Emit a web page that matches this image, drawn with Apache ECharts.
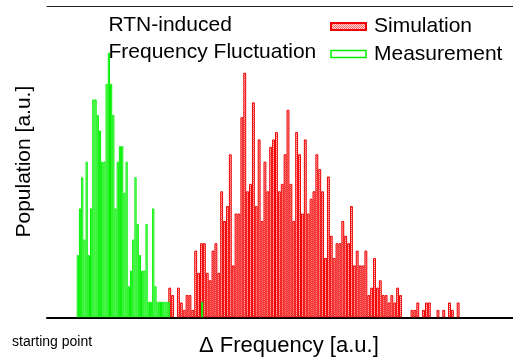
<!DOCTYPE html>
<html>
<head>
<meta charset="utf-8">
<script src="https://cdn.jsdelivr.net/npm/echarts@6/dist/echarts.min.js"></script>
<style>
  html, body { margin: 0; padding: 0; background: #fff; }
  #chart { width: 513px; height: 361px; }
</style>
</head>
<body>
<div id="chart"></div>
<script>
// Histogram counts per frequency bin (arbitrary units)
const simulationCounts = [
  4, 3, 0, 4, 2, 1, 3, 3, 1, 9,
  6, 10, 10, 6, 5, 9, 10, 6, 17, 13,
  15, 22, 7, 14, 14, 27, 33, 17, 18, 29,
  15, 24, 13, 21, 17, 23, 24, 25, 17, 18,
  22, 28, 18, 13, 25, 22, 14, 24, 14, 16,
  17, 22, 20, 17, 8, 19, 11, 8, 10, 10,
  13, 11, 10, 15, 7, 9, 7, 7, 9, 3,
  4, 8, 4, 5, 3, 3, 2, 3, 2, 4,
  3, 0, 0, 0, 1, 1, 2, 0, 1, 2,
  2, 0, 0, 1, 0, 1, 0, 2, 1, 0,
  2
];
const measurementCounts = [
  4, 7, 9, 5, 10, 4, 7, 14, 14, 13,
  12, 10, 10, 15, 17, 15, 13, 7, 10, 11,
  11, 8, 10, 2, 3, 5, 9, 6, 4, 3,
  3, 6, 1, 1, 7, 2, 1, 1, 1, 1,
  1, 1, 0, 0, 0, 0, 0, 0, 0, 0,
  0, 0, 0, 0, 0, 0, 1
];
const seriesNames = ['Simulation', 'Measurement'];
const annotationLines = ['RTN-induced', 'Frequency Fluctuation'];
const xAxisTitle = '\u0394 Frequency [a.u.]';
const yAxisTitle = 'Population [a.u.]';
const originNote = 'starting point';

const FONT = 'Liberation Sans, Arial, Helvetica, sans-serif';

// fine red/pink checker used as the fill of the simulated histogram
function checkerFill() {
  const c = document.createElement('canvas');
  c.width = 2; c.height = 2;
  const g = c.getContext('2d');
  g.fillStyle = '#ffd8d8';
  g.fillRect(0, 0, 2, 2);
  g.fillStyle = '#ff6464';
  g.fillRect(0, 0, 1, 1);
  g.fillRect(1, 1, 1, 1);
  return c;
}
const pinkFill = { image: checkerFill(), repeat: 'repeat' };

const toBars = arr => arr.map(v => (v === 0 ? '-' : v));
const binLabels = arr => arr.map((_, i) => String(i));

const chart = echarts.init(document.getElementById('chart'), null, { renderer: 'canvas' });

const hiddenValue = (grid, max) => ({
  gridIndex: grid, type: 'value', min: 0, max: max, show: false
});

chart.setOption({
  animation: false,
  backgroundColor: '#fff',
  title: [
    {
      text: annotationLines.join('\n'),
      left: 108.5, top: 11,
      padding: 0,
      textStyle: { fontFamily: FONT, fontSize: 21, fontWeight: 'normal', color: '#000', lineHeight: 27.5 }
    },
    {
      text: xAxisTitle,
      left: 199, top: 334,
      padding: 0,
      textStyle: { fontFamily: FONT, fontSize: 22, fontWeight: 'normal', color: '#000', lineHeight: 23 }
    },
    {
      text: originNote,
      left: 12, top: 335,
      padding: 0,
      textStyle: { fontFamily: FONT, fontSize: 14, fontWeight: 'normal', color: '#000', lineHeight: 15 }
    }
  ],
  legend: {
    orient: 'vertical',
    left: 330, top: 16,
    padding: 0,
    itemWidth: 35, itemHeight: 7, itemGap: 6.5,
    icon: 'rect',
    textStyle: { fontFamily: FONT, fontSize: 21, color: '#000', lineHeight: 21, padding: [0, 0, 0, 3] },
    data: [
      { name: seriesNames[0] },
      { name: seriesNames[1], itemStyle: { color: '#ffffff', borderColor: '#00f000', borderWidth: 1.5 } }
    ]
  },
  grid: [
    { left: 168.3, right: 53.4, top: 6, bottom: 43.7 },   // simulation bins
    { left: 76.7, right: 309.8, top: 6, bottom: 43.7 },   // measurement bins
    { left: 47, right: 0, top: 6, bottom: 43.7 }          // frame
  ],
  xAxis: [
    { gridIndex: 0, type: 'category', data: binLabels(simulationCounts), show: false },
    { gridIndex: 1, type: 'category', data: binLabels(measurementCounts), show: false },
    {
      gridIndex: 2, type: 'value', min: 0, max: 1, position: 'bottom',
      axisLine: { show: true, lineStyle: { color: '#000', width: 2 } },
      axisTick: { show: false }, axisLabel: { show: false }, splitLine: { show: false }
    },
    {
      gridIndex: 2, type: 'value', min: 0, max: 1, position: 'top',
      axisLine: { show: true, lineStyle: { color: '#222', width: 1 } },
      axisTick: { show: false }, axisLabel: { show: false }, splitLine: { show: false }
    }
  ],
  yAxis: [
    hiddenValue(0, 42),
    hiddenValue(1, 20),
    {
      gridIndex: 2, type: 'value', min: 0, max: 1,
      axisLine: { show: false }, axisTick: { show: false },
      axisLabel: { show: false }, splitLine: { show: false },
      name: yAxisTitle, nameLocation: 'middle', nameRotate: 90, nameGap: 12,
      nameTextStyle: { fontFamily: FONT, fontSize: 21, color: '#000' }
    }
  ],
  series: [
    {
      name: seriesNames[0], type: 'bar',
      xAxisIndex: 0, yAxisIndex: 0,
      data: toBars(simulationCounts),
      barCategoryGap: '0%',
      itemStyle: { color: pinkFill, borderColor: '#f00000', borderWidth: 1 },
      z: 2, silent: true
    },
    {
      name: seriesNames[1], type: 'bar',
      xAxisIndex: 1, yAxisIndex: 1,
      data: toBars(measurementCounts),
      barCategoryGap: '0%',
      itemStyle: { color: '#c6ffc6', borderColor: '#00f000', borderWidth: 1 },
      z: 3, silent: true
    }
  ]
});
</script>
</body>
</html>
